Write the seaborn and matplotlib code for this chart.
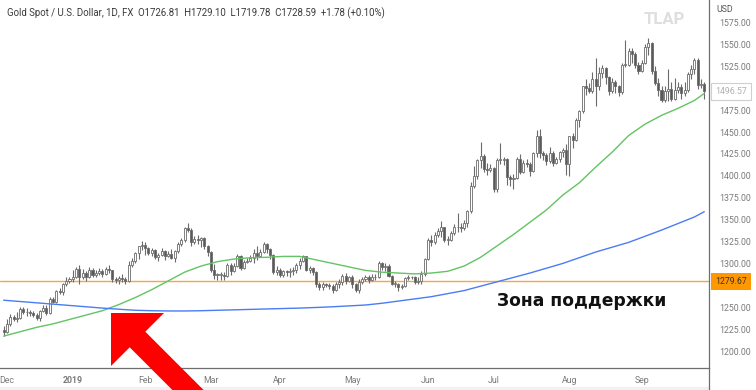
import matplotlib
matplotlib.use("Agg")
import matplotlib.pyplot as plt
import matplotlib.transforms as mtransforms
from matplotlib.patches import Polygon, Rectangle
from matplotlib.lines import Line2D
import numpy as np
import pandas as pd
import seaborn as sns

sns.set_theme(style="white")
plt.rcParams["font.family"] = ["Roboto", "DejaVu Sans"]

# Daily bars, XAU/USD, 30 Nov 2018 - 27 Sep 2019 (no bars on 25 Dec and 1 Jan)
dates = pd.bdate_range("2018-11-30", "2019-09-27")
dates = dates[~dates.isin(pd.to_datetime(["2018-12-25", "2019-01-01"]))]

opens = [
    1224,
    1222, 1231, 1239, 1237, 1238, 1248, 1244, 1244, 1243, 1241, 1238, 1246, 1249, 1243, 1259, 1256, 1269, 1267, 1276, 1280,
    1282, 1284, 1294, 1285, 1289, 1284, 1293, 1287, 1289, 1291, 1288, 1294, 1292, 1282, 1281, 1283, 1282, 1280, 1298, 1303, 1312, 1320,
    1321, 1318, 1312, 1315, 1307, 1310, 1314, 1308, 1311, 1306, 1314, 1322, 1327, 1340, 1338, 1324, 1328, 1327, 1329, 1320,
    1313, 1293, 1287, 1287, 1287, 1286, 1298, 1291, 1297, 1309, 1295, 1302, 1303, 1306, 1312, 1309, 1313, 1322, 1316, 1310, 1290,
    1292, 1287, 1291, 1290, 1291, 1292, 1298, 1303, 1308, 1293, 1295, 1290, 1276, 1273, 1276, 1275, 1274, 1270, 1276, 1279, 1286, 1280,
    1284, 1276, 1270, 1279, 1282, 1285, 1281, 1284, 1285, 1301, 1296, 1297, 1286, 1277, 1277, 1273, 1274, 1283, 1284, 1285, 1279, 1280, 1288,
    1305, 1327, 1325, 1333, 1337, 1341, 1327, 1327, 1335, 1342, 1341, 1340, 1346, 1360, 1388, 1400, 1418, 1423, 1408, 1407,
    1409, 1385, 1418, 1418, 1419, 1399, 1396, 1397, 1419, 1404, 1415, 1413, 1406, 1426, 1445, 1426, 1424, 1417, 1426, 1415, 1419, 1427, 1430,
    1413, 1445, 1441, 1464, 1474, 1502, 1500, 1497, 1511, 1502, 1517, 1523, 1513, 1497, 1507, 1502, 1496, 1527, 1527, 1542, 1539, 1527,
    1520, 1529, 1547, 1552, 1520, 1506, 1498, 1486, 1497, 1499, 1488, 1498, 1501, 1494, 1498, 1516, 1522, 1532, 1504, 1505,
]
highs = [
    1228,
    1236, 1242, 1241, 1244, 1250, 1250, 1249, 1247, 1246, 1243, 1247, 1252, 1253, 1262, 1262, 1270, 1272, 1278, 1284, 1285,
    1293, 1296, 1298, 1294, 1291, 1296, 1295, 1292, 1295, 1294, 1296, 1298, 1293, 1284, 1286, 1288, 1285, 1303, 1306, 1313, 1320, 1326,
    1324, 1319, 1318, 1316, 1312, 1318, 1315, 1314, 1316, 1315, 1324, 1329, 1342, 1346, 1340, 1331, 1332, 1330, 1330, 1321,
    1314, 1299, 1289, 1290, 1290, 1300, 1300, 1300, 1311, 1310, 1304, 1306, 1310, 1316, 1320, 1316, 1324, 1323, 1318, 1311, 1297,
    1295, 1293, 1293, 1295, 1296, 1301, 1306, 1310, 1309, 1297, 1296, 1291, 1279, 1279, 1278, 1278, 1276, 1279, 1282, 1288, 1289, 1286,
    1287, 1278, 1282, 1285, 1287, 1287, 1288, 1288, 1303, 1302, 1301, 1299, 1287, 1280, 1278, 1277, 1285, 1287, 1286, 1286, 1284, 1291, 1306,
    1329, 1333, 1336, 1340, 1348, 1342, 1331, 1337, 1345, 1358, 1346, 1350, 1361, 1393, 1411, 1419, 1439, 1425, 1415, 1414,
    1410, 1420, 1437, 1422, 1420, 1401, 1402, 1422, 1425, 1418, 1419, 1416, 1427, 1452, 1453, 1428, 1426, 1433, 1428, 1422, 1428, 1432, 1436,
    1446, 1449, 1466, 1475, 1502, 1510, 1506, 1519, 1535, 1524, 1526, 1524, 1514, 1512, 1509, 1504, 1529, 1555, 1546, 1546, 1541, 1530,
    1532, 1550, 1557, 1553, 1525, 1512, 1503, 1502, 1522, 1507, 1512, 1507, 1505, 1507, 1518, 1526, 1535, 1535, 1511, 1507,
]
lows = [
    1217,
    1221, 1229, 1234, 1233, 1236, 1242, 1240, 1240, 1239, 1235, 1234, 1244, 1241, 1242, 1255, 1255, 1265, 1264, 1274, 1278,
    1279, 1283, 1277, 1282, 1280, 1283, 1285, 1285, 1287, 1285, 1287, 1289, 1279, 1278, 1277, 1279, 1276, 1279, 1296, 1301, 1305, 1315,
    1310, 1310, 1308, 1305, 1303, 1309, 1304, 1307, 1305, 1302, 1312, 1320, 1325, 1336, 1320, 1322, 1322, 1319, 1316, 1309,
    1290, 1282, 1281, 1281, 1281, 1284, 1287, 1290, 1296, 1293, 1294, 1300, 1302, 1301, 1304, 1307, 1312, 1312, 1305, 1288, 1287,
    1285, 1284, 1286, 1285, 1287, 1289, 1294, 1302, 1291, 1289, 1287, 1273, 1270, 1270, 1273, 1271, 1266, 1269, 1272, 1275, 1277, 1279,
    1272, 1267, 1266, 1276, 1280, 1278, 1280, 1281, 1283, 1292, 1291, 1285, 1275, 1273, 1268, 1271, 1273, 1281, 1282, 1276, 1277, 1276, 1286,
    1304, 1320, 1322, 1330, 1330, 1324, 1321, 1326, 1332, 1336, 1336, 1338, 1341, 1358, 1386, 1396, 1409, 1404, 1401, 1404,
    1382, 1382, 1413, 1412, 1389, 1388, 1385, 1396, 1402, 1403, 1410, 1400, 1404, 1421, 1420, 1418, 1412, 1415, 1411, 1413, 1416, 1422, 1401,
    1400, 1432, 1440, 1456, 1472, 1492, 1495, 1495, 1480, 1498, 1512, 1505, 1492, 1494, 1495, 1491, 1493, 1524, 1525, 1529, 1523, 1516,
    1518, 1528, 1538, 1516, 1504, 1491, 1484, 1484, 1485, 1485, 1487, 1495, 1488, 1491, 1496, 1510, 1516, 1499, 1500, 1488,
]
closes = [
    1222,
    1231, 1239, 1237, 1238, 1248, 1244, 1244, 1243, 1241, 1238, 1246, 1249, 1243, 1259, 1256, 1269, 1267, 1276, 1280, 1282,
    1284, 1294, 1285, 1289, 1284, 1293, 1287, 1289, 1291, 1288, 1294, 1292, 1282, 1281, 1283, 1282, 1280, 1298, 1303, 1312, 1320, 1321,
    1318, 1312, 1315, 1307, 1310, 1314, 1308, 1311, 1306, 1314, 1322, 1327, 1340, 1338, 1324, 1328, 1327, 1329, 1320, 1313,
    1293, 1287, 1287, 1287, 1286, 1298, 1291, 1297, 1309, 1295, 1302, 1303, 1306, 1312, 1309, 1313, 1322, 1316, 1310, 1290, 1292,
    1287, 1291, 1290, 1291, 1292, 1298, 1303, 1308, 1293, 1295, 1290, 1276, 1273, 1276, 1275, 1274, 1270, 1276, 1279, 1286, 1280, 1284,
    1276, 1270, 1279, 1282, 1285, 1281, 1284, 1285, 1301, 1296, 1297, 1286, 1277, 1277, 1273, 1274, 1283, 1284, 1285, 1279, 1280, 1288, 1305,
    1327, 1325, 1333, 1337, 1341, 1327, 1327, 1335, 1342, 1341, 1340, 1346, 1360, 1388, 1400, 1418, 1423, 1408, 1407, 1409,
    1385, 1418, 1418, 1419, 1399, 1396, 1397, 1419, 1404, 1415, 1413, 1406, 1426, 1445, 1426, 1424, 1417, 1426, 1415, 1419, 1427, 1430, 1413,
    1445, 1441, 1464, 1474, 1502, 1500, 1497, 1511, 1502, 1517, 1523, 1513, 1497, 1507, 1502, 1496, 1527, 1527, 1542, 1539, 1527, 1520,
    1529, 1547, 1552, 1520, 1506, 1498, 1486, 1497, 1499, 1488, 1498, 1501, 1494, 1498, 1516, 1522, 1532, 1504, 1505, 1497,
]

# moving averages every 5 bars (bar number, value)
ma_bars = [0, 5, 10, 15, 20, 25, 30, 35, 40, 45, 50, 55, 60, 65, 70, 75, 80, 85, 90, 95, 100, 105,
           110, 115, 120, 125, 130, 135, 140, 145, 150, 155, 160, 165, 170, 175, 180, 185, 190, 195, 200, 205, 210, 213]
ma50 = [1217, 1222, 1227, 1231, 1236, 1241, 1246, 1253, 1261, 1270, 1280, 1290, 1297, 1302, 1305, 1306.5, 1307, 1308,
        1308, 1304, 1300, 1296, 1292, 1290, 1289, 1288, 1289, 1291, 1297, 1307, 1320, 1333, 1347, 1361, 1378, 1392,
        1410, 1427, 1446, 1459, 1469, 1477, 1486, 1494]
ma200 = [1258, 1256.5, 1255, 1253.5, 1252, 1250.5, 1249, 1247.7, 1246.5, 1246, 1245.7, 1245.7, 1246, 1246.5, 1247,
         1247.5, 1248, 1248.5, 1249, 1249.7, 1250.5, 1251.5, 1252.5, 1254.5, 1257, 1259.5, 1262, 1265.5, 1269, 1274,
         1279, 1284, 1289, 1294.5, 1300, 1306.5, 1313, 1318.5, 1324, 1331, 1338, 1345.5, 1353, 1359]

support = 1279.67
last_label = 1496.57
y_ticks = [1200, 1225, 1250, 1300, 1325, 1350, 1375, 1400, 1425, 1450, 1475, 1525, 1550, 1575]
header = "Gold Spot / U.S. Dollar, 1D, FX  O1726.81  H1729.10  L1719.78  C1728.59  +1.78 (+0.10%)"

df = pd.DataFrame({"date": dates, "open": opens, "high": highs, "low": lows, "close": closes})
df["bar"] = np.arange(len(df))
ma = pd.DataFrame({"bar": ma_bars, "ma50": ma50, "ma200": ma200})

W, H = 756, 390
fig = plt.figure(figsize=(W / 100, H / 100), dpi=100)
fig.patch.set_facecolor("white")
ax = fig.add_axes([0, 22 / H, 709 / W, 368 / H])
ax.set_facecolor("white")

# candles
up = df["close"] >= df["open"]
body_low = df[["open", "close"]].min(axis=1)
body_h = (df["close"] - df["open"]).abs().clip(lower=0.8)
ax.vlines(df["bar"], df["low"], df["high"], color="#6b6b6b", linewidth=0.8, zorder=2)
ax.bar(df["bar"], body_h, bottom=body_low, width=0.62,
       color=np.where(up, "#ffffff", "#5a5a5a"), edgecolor="#6b6b6b", linewidth=0.6, zorder=3)

# moving averages
sns.lineplot(data=ma, x="bar", y="ma50", ax=ax, color="#62c462", linewidth=1.0, zorder=4)
sns.lineplot(data=ma, x="bar", y="ma200", ax=ax, color="#4a7cf4", linewidth=1.0, zorder=4)

ax.axhline(support, color="#f7a83a", linewidth=1.0, zorder=1)

ax.set_xlim(-1.125, 214.44)
ax.set_ylim(1180.6, 1600.7)
ax.set_xlabel("")
ax.set_ylabel("")

# month ticks at first bar of each month
first = df.groupby(df["date"].dt.to_period("M"))["bar"].min().iloc[1:]
labels = []
for p in first.index:
    labels.append("2019" if p.month == 1 else p.strftime("%b"))
ax.set_xticks(first.values)
ax.set_xticklabels(labels)
for t in ax.get_xticklabels():
    if t.get_text() == "2019":
        t.set_fontweight("bold")
        t.set_color("#555555")

ax.yaxis.tick_right()
ax.set_yticks(y_ticks)
ax.set_yticklabels([f"{v:.2f}" for v in y_ticks])
ax.tick_params(axis="y", length=0, pad=7, labelsize=6.3, labelcolor="#7a7a7a")
ax.tick_params(axis="x", length=0, pad=6, labelsize=6.3, labelcolor="#7a7a7a")

for s in ["top", "left"]:
    ax.spines[s].set_visible(False)
for s in ["right", "bottom"]:
    ax.spines[s].set_color("#6e6e6e")
    ax.spines[s].set_linewidth(0.9)
fig.add_artist(Line2D([709 / W, 709 / W], [0, 22 / H], color="#6e6e6e", linewidth=0.9))
fig.add_artist(Rectangle((0, 0), 709 / W, 3 / H, transform=fig.transFigure, facecolor="#f0f1f4", edgecolor="none"))

# price scale labels
trans = mtransforms.blended_transform_factory(fig.transFigure, ax.transData)
ax.text(715 / W, support, f"{support:.2f}", transform=trans, ha="left", va="center", fontsize=6.3,
        color="#333333", clip_on=False, zorder=6,
        bbox=dict(boxstyle="square,pad=0.45", facecolor="#ff9800", edgecolor="none"))
ax.text(715 / W, last_label, f"{last_label:.2f}", transform=trans, ha="left", va="center", fontsize=6.3,
        color="#b0b0b0", clip_on=False, zorder=6,
        bbox=dict(boxstyle="square,pad=0.45", facecolor="white", edgecolor="#cfcfcf", linewidth=0.8))
fig.text(716 / W, 1 - 10 / H, "USD", fontsize=6.3, color="#555555", ha="left", va="center")

# header, watermark, annotation
fig.text(7 / W, 1 - 13 / H, header, fontsize=6.9, color="#3a3a3a", ha="left", va="center")
fig.text(664 / W, 1 - 20 / H, "TLAP", fontsize=12, fontweight="bold", color="#dedede", ha="center", va="center")
fig.text(497 / W, 1 - 306.5 / H, "Зона поддержки", fontsize=12.3, fontweight="bold", color="#111111",
         family=["DejaVu Sans"], ha="left", va="baseline")

arrow_px = [(111, 313), (164, 313), (145.3, 331.7), (230.2, 416.6), (214.6, 432.2), (129.7, 347.3), (111, 366)]
fig.add_artist(Polygon([(x / W, 1 - y / H) for x, y in arrow_px], closed=True, transform=fig.transFigure,
                       facecolor="#ff0000", edgecolor="none", zorder=10))

fig.savefig("out.png", dpi=100)
